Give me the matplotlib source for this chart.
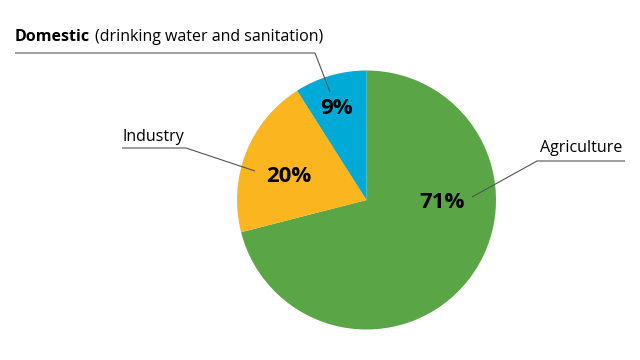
import matplotlib.pyplot as plt

# data
sectors = ["Agriculture", "Industry", "Domestic"]
shares = [71, 20, 9]
colors = ["#5aa546", "#fbb61f", "#00aad6"]

plt.rcParams['font.family'] = ['Open Sans', 'DejaVu Sans']

W, H = 640, 360
fig = plt.figure(figsize=(6.4, 3.6), dpi=100)
ax = fig.add_axes([0, 0, 1, 1])

# pie (y axis is flipped below, so run counterclock from the bottom)
cx, cy, r = 366.5, 200, 129.5
ax.pie(shares, colors=colors, startangle=-90, counterclock=True,
       center=(cx, cy), radius=r, frame=True,
       wedgeprops=dict(linewidth=0))
ax.set_xlim(0, W)
ax.set_ylim(H, 0)
ax.set_aspect('equal')
ax.axis('off')

# percent labels
pct_pos = {"Agriculture": (442, 203), "Industry": (289, 177), "Domestic": (337, 108)}
for name, val in zip(sectors, shares):
    x, y = pct_pos[name]
    ax.text(x, y, f"{val}%", ha='center', va='center', fontsize=16,
            fontweight='bold', color='black')

line_kw = dict(color='#555555', lw=0.8, solid_capstyle='butt')

# Domestic label
t1 = ax.text(15, 45, "Domestic", fontsize=11.5, fontweight='bold', va='bottom', ha='left')
ax.annotate("(drinking water and sanitation)", xy=(1, 0), xycoords=t1,
            xytext=(3.5, 0), textcoords='offset points',
            fontsize=11.5, va='bottom', ha='left')
ax.plot([15, 315, 330], [53, 53, 92], **line_kw)

# Industry label
ax.text(122, 141, "Industry", fontsize=11.5, va='baseline', ha='left')
ax.plot([122, 186, 255], [148, 148, 171], **line_kw)

# Agriculture label
ax.text(540, 152, "Agriculture", fontsize=11.5, va='baseline', ha='left')
ax.plot([625, 537, 472], [161, 161, 197], **line_kw)

fig.savefig('out.png', dpi=100)
